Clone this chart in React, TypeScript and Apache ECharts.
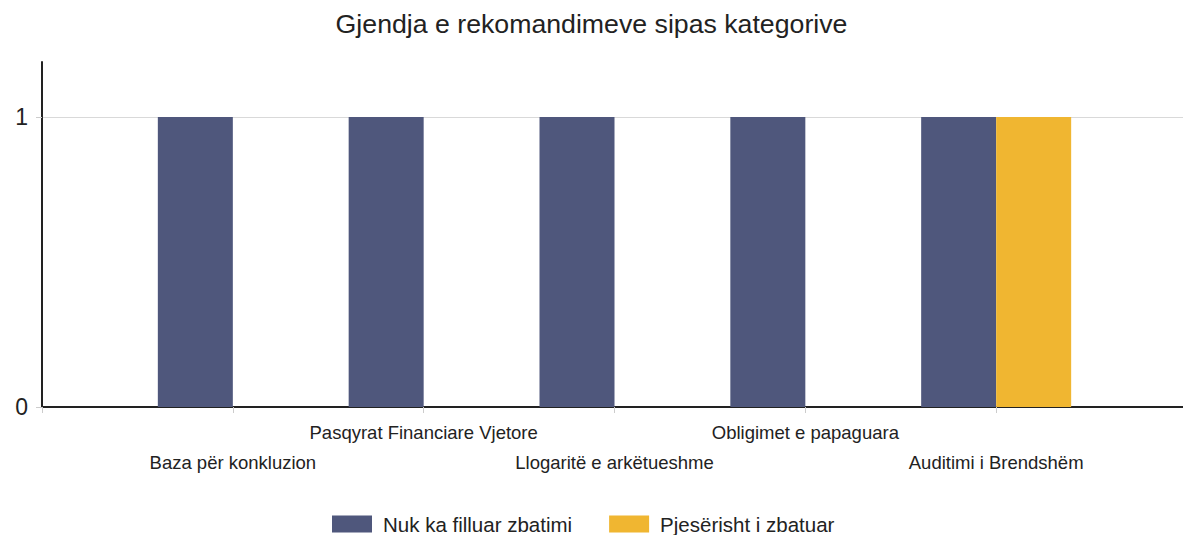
import React, { useEffect, useRef } from "react";
import * as echarts from "echarts";

const title = "Gjendja e rekomandimeve sipas kategorive";
const categories = [
  "",
  "Baza për konkluzion",
  "Pasqyrat Financiare Vjetore",
  "Llogaritë e arkëtueshme",
  "Obligimet e papaguara",
  "Auditimi i Brendshëm",
  "",
];
const seriesNames = ["Nuk ka filluar zbatimi", "Pjesërisht i zbatuar"];
const notStarted = ["-", 1, 1, 1, 1, 1, "-"];
const partial = ["-", "-", "-", "-", "-", 1, "-"];
const yTicks = [0, 1];
const colors = ["#4F577C", "#F0B631"];

export default function App() {
  const ref = useRef<HTMLDivElement>(null);
  useEffect(() => {
    const chart = echarts.init(ref.current!, null, { renderer: "svg" });
    chart.setOption({
      animation: false,
      color: colors,
      textStyle: { fontFamily: "Liberation Sans, Arial, sans-serif" },
      title: {
        text: title,
        left: "center",
        top: 5,
        textStyle: { fontSize: 26.7, fontWeight: "normal", color: "#222" },
      },
      legend: {
        top: 507,
        left: 327,
        itemWidth: 40,
        itemHeight: 17,
        itemGap: 37,
        icon: "rect",
        textStyle: { fontSize: 20.5, lineHeight: 24, color: "#222", padding: [0, 0, 0, 6] },
        data: seriesNames,
      },
      grid: { left: 42, right: -4, top: 62, bottom: 128, outerBoundsMode: "none", containLabel: false },
      xAxis: {
        type: "category",
        data: categories,
        boundaryGap: false,
        axisLine: { lineStyle: { color: "#222", width: 2 } },
        axisTick: { show: true, length: 6, lineStyle: { color: "#ccc" } },
        axisLabel: {
          interval: 0,
          margin: 10,
          fontSize: 18.5,
          color: "#222",
          formatter: (v: string, i: number) => (i % 2 === 1 ? "\n" + v : v),
          lineHeight: 30,
        },
        splitLine: { show: false },
      },
      yAxis: {
        type: "value",
        min: 0,
        max: 1.19,
        interval: 1,
        axisLine: { show: true, lineStyle: { color: "#222", width: 2 } },
        axisTick: { show: true, length: 6, lineStyle: { color: "#ccc" }, customValues: yTicks },
        axisLabel: {
          fontSize: 23,
          color: "#222",
          margin: 14,
          customValues: yTicks,
        },
        splitLine: { show: true, showMinLine: false, lineStyle: { color: "#d9d9d9" } },
      },
      series: [
        {
          name: seriesNames[0],
          type: "bar",
          data: notStarted,
          barWidth: 75,
          barGap: "0%",
        },
        {
          name: seriesNames[1],
          type: "bar",
          data: partial,
          barWidth: 75,
          barGap: "0%",
        },
      ],
    });
    return () => chart.dispose();
  }, []);
  return (
    <div
      ref={ref}
      style={{ position: "absolute", left: 0, top: 0, width: 1183, height: 535 }}
    />
  );
}
